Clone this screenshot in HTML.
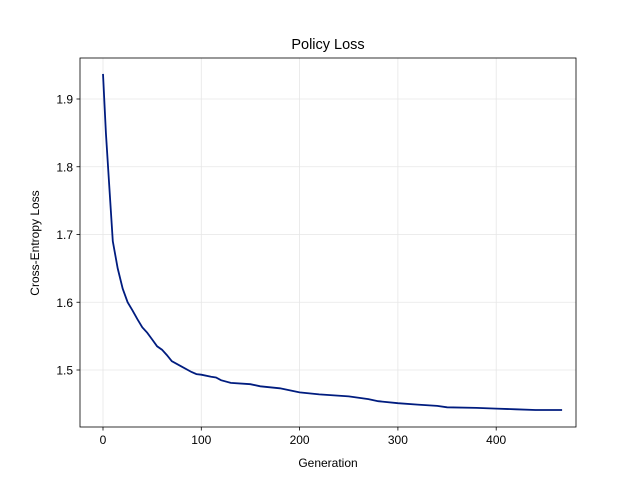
<!DOCTYPE html>
<html><head><meta charset="utf-8"><style>
body{margin:0;background:#fff;}
svg{display:block;font-family:"Liberation Sans","DejaVu Sans",sans-serif;}
</style></head><body>
<svg id="chart" width="640" height="480">
<rect width="640" height="480" fill="#fff"/>
<g id="grid"></g>
<g id="ticks"></g>
<path id="line" fill="none" stroke="#001c7f" stroke-width="1.8"/>
<rect x="80" y="58" width="496" height="369" fill="none" stroke="#000" stroke-width="0.8"/>
<text x="328" y="49" text-anchor="middle" font-size="14.5">Policy Loss</text>
<text x="328" y="467" text-anchor="middle" font-size="12">Generation</text>
<text transform="translate(39,243) rotate(-90)" text-anchor="middle" font-size="12">Cross-Entropy Loss</text>
</svg>
<script>
const generations=[0,3,6,10,15,20,25,30,35,40,45,50,55,60,65,70,80,90,95,100,110,115,120,130,150,160,180,200,220,250,270,280,300,320,340,350,380,400,420,440,467];
const losses=[1.937,1.85,1.78,1.69,1.65,1.62,1.60,1.588,1.575,1.563,1.555,1.545,1.535,1.530,1.522,1.513,1.505,1.497,1.494,1.493,1.490,1.489,1.485,1.481,1.479,1.476,1.473,1.467,1.464,1.461,1.457,1.454,1.451,1.449,1.447,1.445,1.444,1.443,1.442,1.441,1.441];
const xTicks=[0,100,200,300,400];
const yTicks=[1.5,1.6,1.7,1.8,1.9];
const NS="http://www.w3.org/2000/svg";
const X=v=>103+v*0.983;
const Y=v=>370-(v-1.5)*677.5;
const grid=document.getElementById('grid'),ticks=document.getElementById('ticks');
function mk(tag,attrs,parent){const e=document.createElementNS(NS,tag);for(const k in attrs)e.setAttribute(k,attrs[k]);parent.appendChild(e);return e;}
xTicks.forEach(t=>{
 const gl=mk('line',{x1:X(t),x2:X(t),y1:58,y2:427,stroke:'#e6e6e6','stroke-width':0.8},grid);
 
 
 mk('line',{x1:X(t),x2:X(t),y1:427,y2:430.5,stroke:'#000','stroke-width':0.8},ticks);
 const tx=mk('text',{x:X(t),y:444,'text-anchor':'middle','font-size':12},ticks);
 tx.textContent=t;
 
 
});
yTicks.forEach(t=>{
 const gl=mk('line',{x1:80,x2:576,y1:Y(t),y2:Y(t),stroke:'#e6e6e6','stroke-width':0.8},grid);
 
 
 mk('line',{x1:76.5,x2:80,y1:Y(t),y2:Y(t),stroke:'#000','stroke-width':0.8},ticks);
 const tx=mk('text',{x:73,y:Y(t)+4.5,'text-anchor':'end','font-size':12},ticks);
 tx.textContent=t.toFixed(1);
 
 
});
document.getElementById('line').setAttribute('d',generations.map((g,i)=>(i?'L':'M')+X(g).toFixed(1)+' '+Y(losses[i]).toFixed(1)).join(' '));
</script>
</body></html>
